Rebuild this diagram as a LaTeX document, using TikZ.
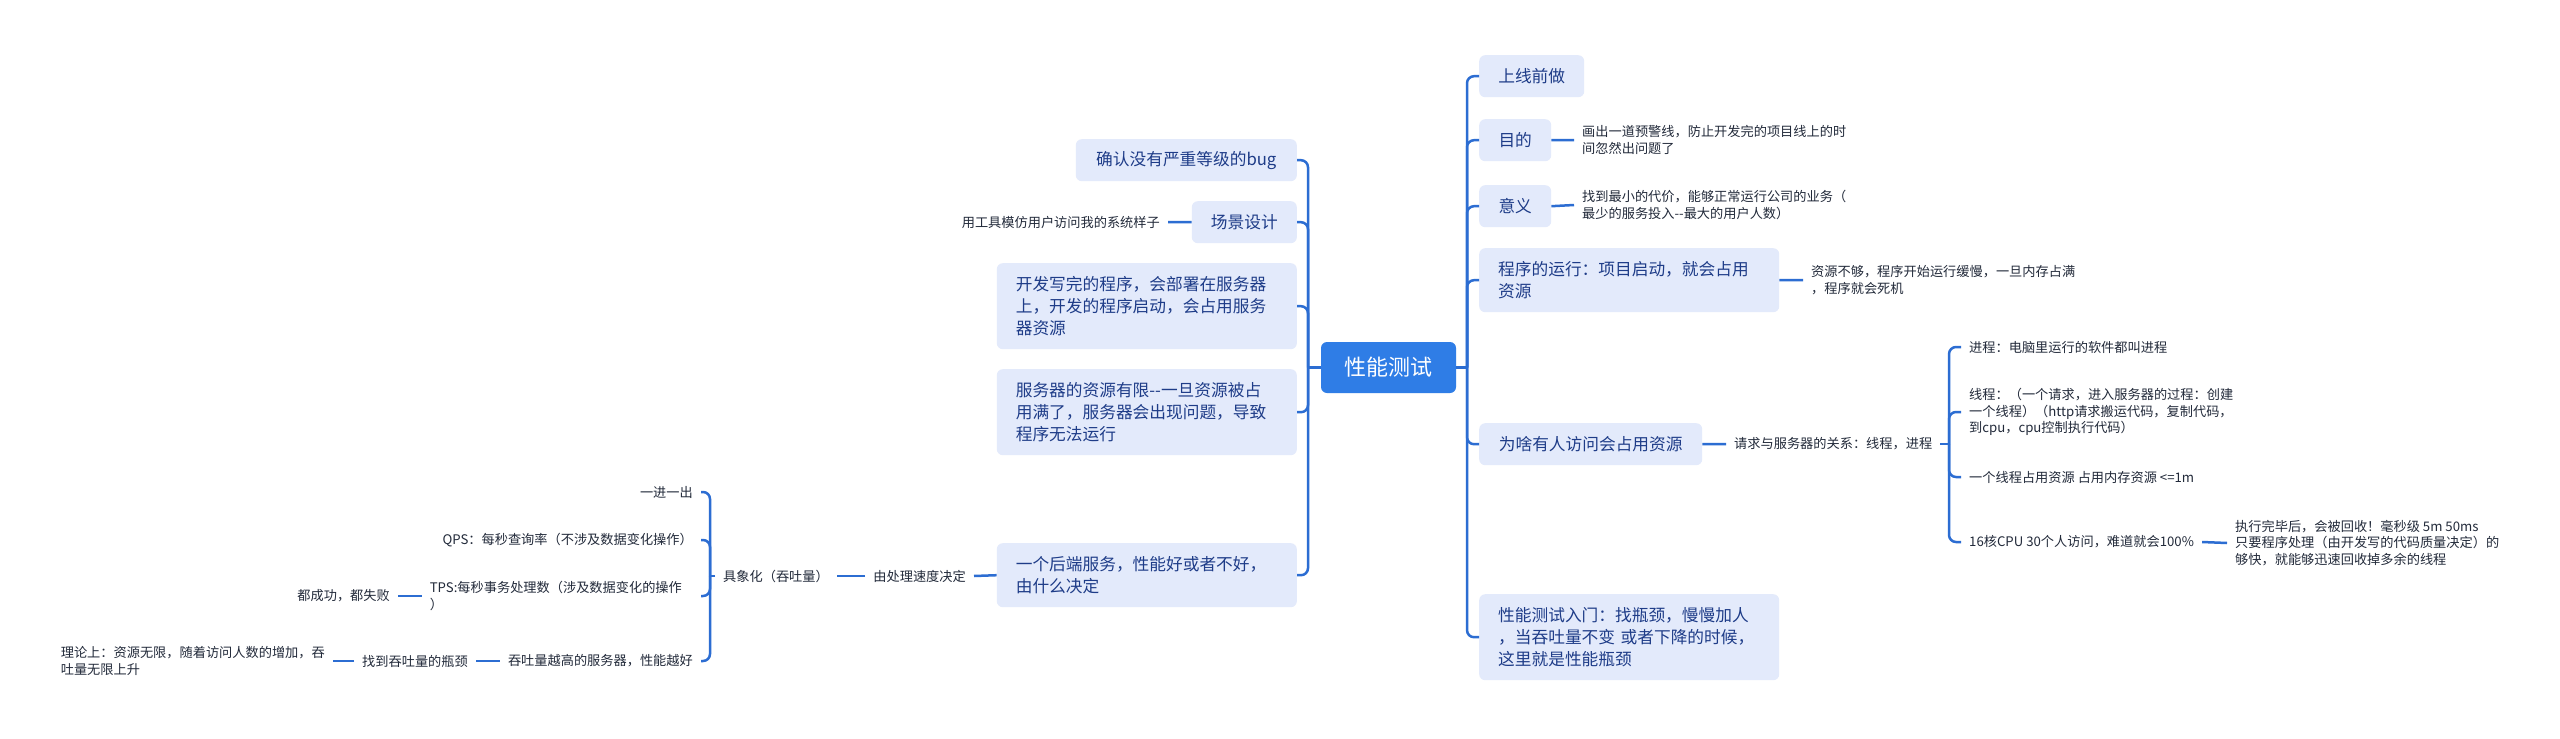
\documentclass[tikz,border=0pt]{standalone}
\usepackage{fontspec}
\setmainfont{Noto Sans CJK SC}
\definecolor{lineblue}{HTML}{2C6DD2}
\definecolor{boxfill}{HTML}{E3EAFB}
\definecolor{boxtext}{HTML}{1E3C88}
\definecolor{rootfill}{HTML}{2F7DE6}
\definecolor{smalltext}{HTML}{222A3A}
\begin{document}
\begin{tikzpicture}[x=1pt,y=-1pt,
  box/.style={fill=boxfill, rounded corners=6pt, text=boxtext, font=\fontsize{16.7}{22}\selectfont, inner xsep=19pt, inner ysep=0pt, align=left},
  leaf/.style={text=smalltext, font=\fontsize{13.2}{16.5}\selectfont, inner xsep=8pt, inner ysep=2pt, align=left},
  conn/.style={draw=lineblue, line width=2.5pt, rounded corners=7pt},
]
\useasboundingbox[fill=white] (0,0) rectangle (2560,739);

% root
\node[fill=rootfill, rounded corners=6pt, text=white, font=\fontsize{22}{26}\selectfont, minimum width=135pt, minimum height=51pt, inner sep=0pt] (root) at (1388.5,367.5) {性能测试};

% right boxes
\node[box, anchor=north west, minimum width=105pt, minimum height=42pt] (bR1) at (1479,55) {上线前做};
\node[box, anchor=north west, minimum width=72pt, minimum height=42pt] (bR2) at (1479,119) {目的};
\node[box, anchor=north west, minimum width=72pt, minimum height=42pt] (bR3) at (1479,185) {意义};
\node[box, anchor=north west, text width=262pt, minimum height=64pt] (bR4) at (1479,248) {程序的运行：项目启动，就会占用\\资源};
\node[box, anchor=north west, minimum width=223pt, minimum height=42pt] (bR5) at (1479,423) {为啥有人访问会占用资源};
\node[box, anchor=north west, text width=262pt, minimum height=86pt] (bR6) at (1479,594) {性能测试入门：找瓶颈，慢慢加人\\，当吞吐量不变 或者下降的时候，\\这里就是性能瓶颈};

% left boxes
\node[box, anchor=north east, minimum width=221pt, minimum height=42pt] (bL1) at (1297,139) {确认没有严重等级的bug};
\node[box, anchor=north east, minimum width=105pt, minimum height=42pt] (bL2) at (1297,201) {场景设计};
\node[box, anchor=north east, text width=262pt, minimum height=86pt] (bL3) at (1297,263) {开发写完的程序，会部署在服务器\\上，开发的程序启动，会占用服务\\器资源};
\node[box, anchor=north east, text width=262pt, minimum height=86pt] (bL4) at (1297,369) {服务器的资源有限-{}-一旦资源被占\\用满了，服务器会出现问题，导致\\程序无法运行};
\node[box, anchor=north east, text width=262pt, minimum height=64pt] (bL5) at (1297,543) {一个后端服务，性能好或者不好，\\由什么决定};

% trunks
\coordinate (rT) at (1467,367.5);
\coordinate (lT) at (1308,367.5);
\draw[conn] (root.east) -- (rT);
\draw[conn] (root.west) -- (lT);
\foreach \n in {bR1,bR2,bR3,bR4,bR5,bR6} \draw[conn] (rT) |- (\n.west);
\foreach \n in {bL1,bL2,bL3,bL4,bL5} \draw[conn] (lT) |- (\n.east);

% right leaves
\node[leaf, anchor=west] (lR2) at (1574,140) {画出一道预警线，防止开发完的项目线上的时\\间忽然出问题了};
\node[leaf, anchor=west] (lR3) at (1574,205) {找到最小的代价，能够正常运行公司的业务（\\最少的服务投入-{}-最大的用户人数）};
\node[leaf, anchor=west] (lR4) at (1803,280) {资源不够，程序开始运行缓慢，一旦内存占满\\，程序就会死机};
\node[leaf, anchor=west] (lR5) at (1726,444) {请求与服务器的关系：线程，进程};
\coordinate (rB) at (1949,444);
\node[leaf, anchor=west] (lR51) at (1961,347) {进程：电脑里运行的软件都叫进程};
\node[leaf, anchor=west] (lR52) at (1961,412) {线程：（一个请求，进入服务器的过程：创建\\一个线程）（http请求搬运代码，复制代码，\\到cpu，cpu控制执行代码）};
\node[leaf, anchor=west] (lR53) at (1961,477) {一个线程占用资源 占用内存资源 <=1m};
\node[leaf, anchor=west] (lR54) at (1961,542) {16核CPU 30个人访问，难道就会100\%};
\node[leaf, anchor=west] (lR541) at (2227,543) {执行完毕后，会被回收！毫秒级 5m 50ms\\只要程序处理（由开发写的代码质量决定）的\\够快，就能够迅速回收掉多余的线程};

\draw[conn] (bR2.east) -- (lR2.west);
\draw[conn] (bR3.east) -- (lR3.west);
\draw[conn] (bR4.east) -- (lR4.west);
\draw[conn] (bR5.east) -- (lR5.west);
\draw[conn] (lR5.east) -- (rB);
\foreach \n in {lR51,lR52,lR53,lR54} \draw[conn] (rB) |- (\n.west);
\draw[conn] (lR54.east) -- (lR541.west);

% left leaves
\node[leaf, anchor=east] (lL2) at (1168,222) {用工具模仿用户访问我的系统样子};
\node[leaf, anchor=east] (lL5) at (974,576) {由处理速度决定};
\node[leaf, anchor=east] (lL51) at (837,576) {具象化（吞吐量）};
\coordinate (lB) at (710,576);
\node[leaf, anchor=east] (lL511) at (701,492) {一进一出};
\node[leaf, anchor=east] (lL512) at (701,540) {QPS：每秒查询率（不涉及数据变化操作）};
\node[leaf, anchor=east, text width=263pt] (lL513) at (701,596) {TPS:每秒事务处理数（涉及数据变化的操作\\）};
\node[leaf, anchor=east] (lL5131) at (398,596) {都成功，都失败};
\node[leaf, anchor=east] (lL514) at (701,661) {吞吐量越高的服务器，性能越好};
\node[leaf, anchor=east] (lL5141) at (476,661) {找到吞吐量的瓶颈};
\node[leaf, anchor=east] (lL51411) at (333,661) {理论上：资源无限，随着访问人数的增加，吞\\吐量无限上升};

\draw[conn] (bL2.west) -- (lL2.east);
\draw[conn] (bL5.west) -- (lL5.east);
\draw[conn] (lL5.west) -- (lL51.east);
\draw[conn] (lL51.west) -- (lB);
\foreach \n in {lL511,lL512,lL513,lL514} \draw[conn] (lB) |- (\n.east);
\draw[conn] (lL513.west) -- (lL5131.east);
\draw[conn] (lL514.west) -- (lL5141.east);
\draw[conn] (lL5141.west) -- (lL51411.east);
\end{tikzpicture}
\end{document}
